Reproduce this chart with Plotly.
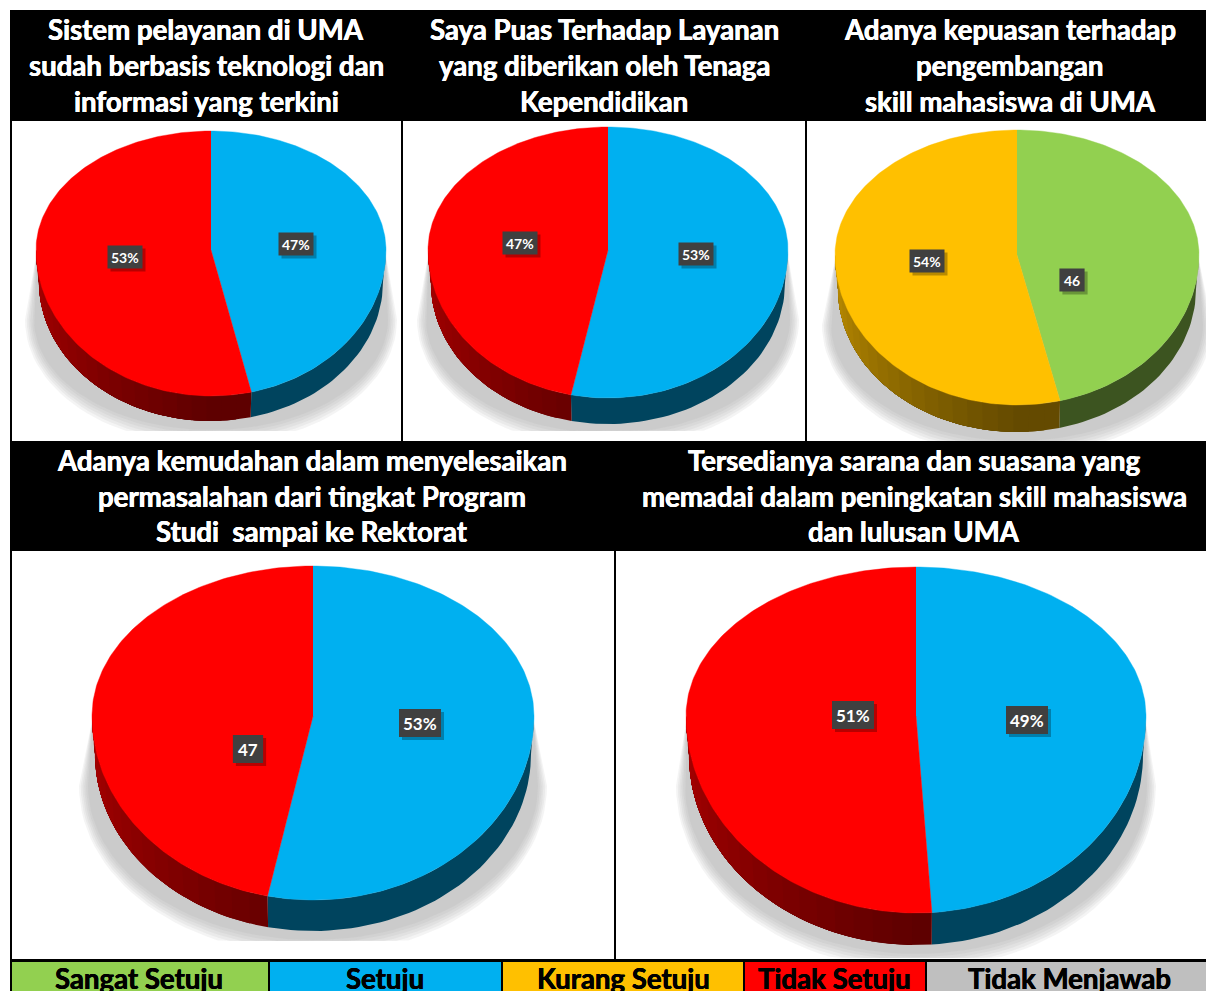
import math
import plotly.graph_objects as go

# ---- data ----
TITLES = [
    ["Sistem pelayanan di UMA", "sudah berbasis teknologi dan", "informasi yang terkini"],
    ["Saya Puas Terhadap Layanan", "yang diberikan oleh Tenaga", "Kependidikan"],
    ["Adanya kepuasan terhadap", "pengembangan", "skill mahasiswa di UMA"],
    ["Adanya kemudahan dalam menyelesaikan", "permasalahan dari tingkat Program", "Studi  sampai ke Rektorat"],
    ["Tersedianya sarana dan suasana yang", "memadai dalam peningkatan skill mahasiswa", "dan lulusan UMA"],
]
CATEGORIES = ["Sangat Setuju", "Setuju", "Kurang Setuju", "Tidak Setuju", "Tidak Menjawab"]
SLICE_CATEGORIES = [
    ["Setuju", "Tidak Setuju"],
    ["Setuju", "Tidak Setuju"],
    ["Sangat Setuju", "Kurang Setuju"],
    ["Setuju", "Tidak Setuju"],
    ["Setuju", "Tidak Setuju"],
]
SLICE_VALUES = [
    [46.3, 53.7],
    [53.3, 46.7],
    [46.2, 53.8],
    [53.3, 46.7],
    [48.9, 51.1],
]
SLICE_LABELS = [
    ["47%", "53%"],
    ["53%", "47%"],
    ["46", "54%"],
    ["53%", "47"],
    ["49%", "51%"],
]

# ---- styles and layout ----
TOP = {"Sangat Setuju": "#92D050", "Setuju": "#00B0F0", "Kurang Setuju": "#FFC000",
       "Tidak Setuju": "#FF0000", "Tidak Menjawab": "#BFBFBF"}
SIDE_DARK = {"Sangat Setuju": (60, 84, 32), "Setuju": (0, 68, 94),
             "Kurang Setuju": (100, 74, 0), "Tidak Setuju": (94, 0, 0)}
SIDE_LIGHT = {"Sangat Setuju": (60, 84, 32), "Setuju": (0, 68, 94),
              "Kurang Setuju": (190, 142, 0), "Tidak Setuju": (170, 0, 0)}
W, H = 1206, 991
FONT = "Lato"
GEOM = [
    dict(cx=211, cy=250, rx=175, top=119, bot=146, depth=25, clip=431, sx=186, label=[(296, 244), (125, 257)], box=(35, 23), fs=14),
    dict(cx=608, cy=250, rx=180, top=123, bot=148, depth=26, clip=431, sx=191, label=[(696, 254), (520, 243)], box=(35, 23), fs=14),
    dict(cx=1017, cy=255, rx=182, top=125, bot=150, depth=27, clip=441, sx=195, label=[(1072, 280), (927, 261)], box=(35, 23), fs=14),
    dict(cx=313, cy=716, rx=221, top=150, bot=184, depth=31, clip=941, sx=234, label=[(420, 723), (248, 749)], box=(42, 28), fs=17),
    dict(cx=916, cy=716, rx=230, top=149, bot=197, depth=32, clip=958, sx=240, label=[(1027, 720), (853, 715)], box=(42, 28), fs=17),
]
TITLE_X = [206, 604, 1010, 312, 914]
TITLE_Y = [[29.5, 65.5, 101.5]] * 3 + [[460, 496, 531.5]] * 2


def point(g, deg, rx=None, cy=None, bot=None):
    t = math.radians(deg)
    c = math.cos(t)
    rx = g["rx"] if rx is None else rx
    cy = g["cy"] if cy is None else cy
    bot = g["bot"] if bot is None else bot
    return g["cx"] + rx * math.sin(t), cy - (g["top"] if c > 0 else bot) * c


def steps(a, b, step):
    n = max(1, int(math.ceil((b - a) / step)))
    return [a + (b - a) * i / n for i in range(n + 1)]


fig = go.Figure()


def poly(xs, ys, color, line=0):
    fig.add_trace(go.Scatter(
        x=xs, y=ys, mode="lines", fill="toself", fillcolor=color,
        line=dict(color=color, width=line), hoverinfo="skip", showlegend=False))


shapes = []
annotations = []


def rect(x0, y0, x1, y1, color, layer="below"):
    shapes.append(dict(type="rect", x0=x0, y0=y0, x1=x1, y1=y1, xref="x", yref="y",
                       fillcolor=color, line=dict(width=0), layer=layer))


def text(x, y, s, size, color, heavy=0.0):
    font = dict(family=FONT, size=size, color=color, weight="bold")
    if heavy:
        font["shadow"] = "%.2fpx 0 0 %s, -%.2fpx 0 0 %s" % (heavy, color, heavy, color)
    annotations.append(dict(x=x, y=y, xref="x", yref="y", text=s, showarrow=False,
                            xanchor="center", yanchor="middle", font=font))


# frame
rect(10, 10, W, 121, "#000000")
rect(10, 441, W, 551, "#000000")
rect(10, 10, 12, H, "#000000")
rect(401, 121, 403, 441, "#000000")
rect(805, 121, 807, 441, "#000000")
rect(614, 551, 616, 960, "#000000")
rect(10, 959, W, H, "#000000")

# legend strip
cells = [(12, 268), (270, 501), (503, 743), (745, 925), (927, W)]
for cat, (x0, x1) in zip(CATEGORIES, cells):
    rect(x0, 962, x1, H, TOP[cat])
for x, cat in zip([139, 385, 623, 834, 1069], CATEGORIES):
    text(x, 978, cat, 27.6, "#000000", 0.35)

for i, g in enumerate(GEOM):
    # soft ground shadow
    for k in range(6):
        inset = k * 3.0
        yc = g["cy"] + 70
        ry = g["cy"] + g["bot"] + g["depth"] + 24 - yc - inset
        rx = g["sx"] - inset * 0.6
        xs = [g["cx"] - g["rx"] + 1]
        ys = [g["cy"]]
        for d in steps(-90, 90, 3):
            t = math.radians(d)
            xs.append(g["cx"] + rx * math.sin(t))
            ys.append(min(yc + ry * math.cos(t), g["clip"]))
        xs.append(g["cx"] + g["rx"] - 1)
        ys.append(g["cy"])
        poly(xs, ys, "rgba(150,150,150,0.105)")

    total = sum(SLICE_VALUES[i])
    start = 0.0
    ranges = []
    for val in SLICE_VALUES[i]:
        end = start + 360.0 * val / total
        ranges.append((start, end))
        start = end

    # side wall: each strip runs to the slice's end and the next one paints over it
    e = g["depth"] + 7
    for cat, (a, b) in zip(SLICE_CATEGORIES[i], ranges):
        lo, hi = max(a, 90), min(b, 270)
        if hi <= lo:
            continue
        dark, light = SIDE_DARK[cat], SIDE_LIGHT[cat]
        grid = steps(lo, hi, 5) if dark != light else [lo, hi]
        for p, q in zip(grid[:-1], grid[1:]):
            f = max(0.0, ((p + q) / 2 - 180) / 90)
            rgb = tuple(round(dark[j] + (light[j] - dark[j]) * f) for j in range(3))
            col = "rgb(%d,%d,%d)" % rgb
            arc = steps(p, hi, 2)
            upper = [point(g, d) for d in arc]
            lower = [point(g, d, rx=g["rx"] - 3, cy=g["cy"] + e, bot=g["bot"] + g["depth"] - e)
                     for d in arc]
            pts = upper + lower[::-1]
            poly([u[0] for u in pts], [u[1] for u in pts], col, 0)

    # top face
    for cat, (a, b) in zip(SLICE_CATEGORIES[i], ranges):
        pts = [(g["cx"], g["cy"])] + [point(g, d) for d in steps(a, b, 1)]
        poly([u[0] for u in pts], [u[1] for u in pts], TOP[cat], 0.4)

    # value labels
    bw, bh = g["box"]
    for lab, (lx, ly) in zip(SLICE_LABELS[i], g["label"]):
        w = bw if "%" in lab else bw * 0.72
        rect(lx - w / 2 + 3, ly - bh / 2 + 3, lx + w / 2 + 3, ly + bh / 2 + 3, "rgba(0,0,0,0.28)", "above")
        rect(lx - w / 2, ly - bh / 2, lx + w / 2, ly + bh / 2, "#404040", "above")
        text(lx, ly, lab, g["fs"], "#FFFFFF")

    # titles
    for line, y in zip(TITLES[i], TITLE_Y[i]):
        text(TITLE_X[i], y, line, 27.6, "#FFFFFF", 0.35)

fig.update_layout(
    width=W, height=H, margin=dict(l=0, r=0, t=0, b=0),
    paper_bgcolor="#FFFFFF", plot_bgcolor="#FFFFFF", showlegend=False,
    xaxis=dict(range=[0, W], visible=False, fixedrange=True),
    yaxis=dict(range=[H, 0], visible=False, fixedrange=True),
    shapes=shapes, annotations=annotations,
)
fig.write_html("out.html", config={"displayModeBar": False},
               post_script="document.body.style.margin='0';document.documentElement.style.overflow='hidden';")
